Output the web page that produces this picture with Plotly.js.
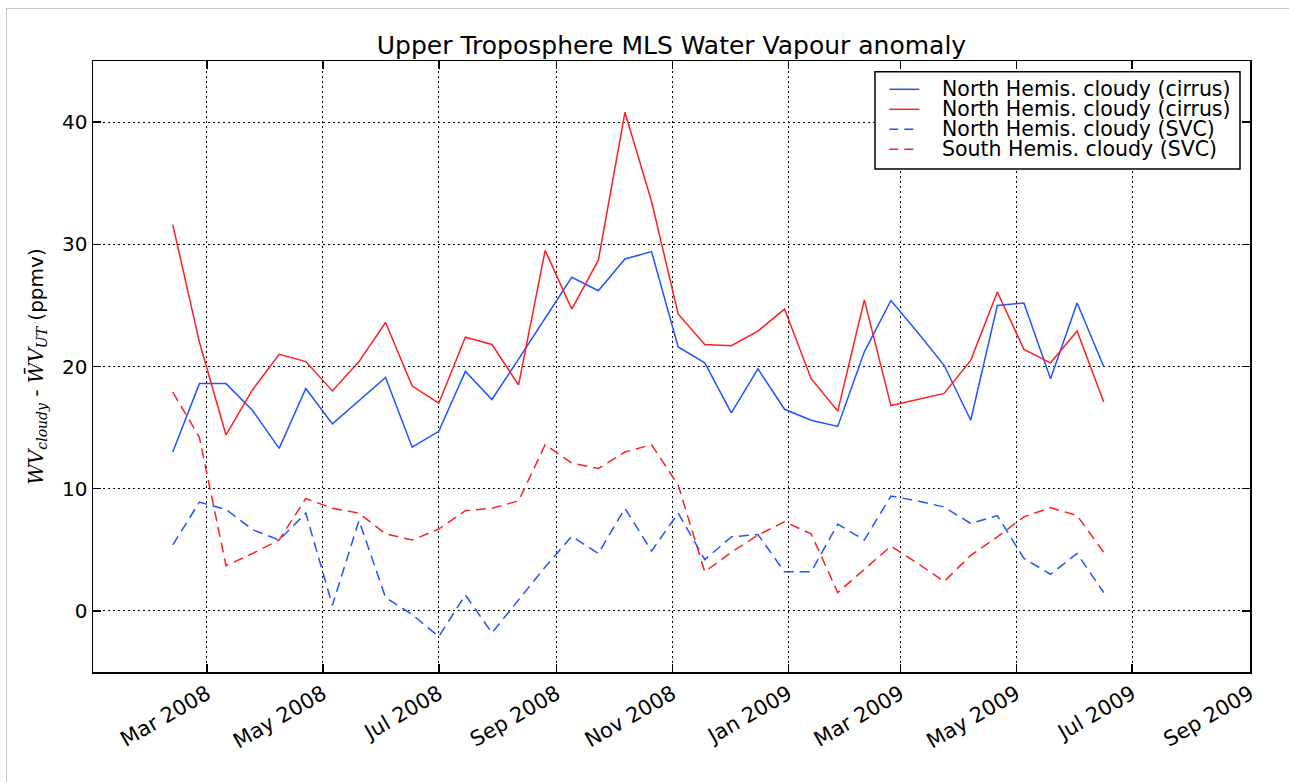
<!DOCTYPE html>
<html>
<head>
<meta charset="utf-8">
<script src="https://cdn.plot.ly/plotly-3.0.1.min.js"></script>
<style>
  html, body { margin: 0; padding: 0; background: #fff; }
  #frame { position: absolute; left: 6px; top: 8px; width: 1283px; height: 774px;
           border-left: 1px solid #c8c8c8; border-top: 1px solid #c8c8c8; }
  #chart { position: absolute; left: 0; top: 0; width: 1289px; height: 782px; }
</style>
</head>
<body>
<div id="frame"></div>
<div id="chart"></div>
<script>
// Sampling dates (every two weeks)
const dates = [
  "2008-02-12","2008-02-26","2008-03-11","2008-03-25","2008-04-08","2008-04-22",
  "2008-05-06","2008-05-20","2008-06-03","2008-06-17","2008-07-01","2008-07-15",
  "2008-07-29","2008-08-12","2008-08-26","2008-09-09","2008-09-23","2008-10-07",
  "2008-10-21","2008-11-04","2008-11-18","2008-12-02","2008-12-16","2008-12-30",
  "2009-01-13","2009-01-27","2009-02-10","2009-02-24","2009-03-10","2009-03-24",
  "2009-04-07","2009-04-21","2009-05-05","2009-05-19","2009-06-02","2009-06-16"
];

// North Hemis. cloudy (cirrus) - blue solid
const nhCirrusBlue = [
  13.0, 18.6, 18.6, 16.4, 13.3, 18.2, 15.3, 17.2, 19.1, 13.4, 14.7, 19.6,
  17.3, 20.6, 23.9, 27.3, 26.2, 28.8, 29.4, 21.6, 20.3, 16.2, 19.8, 16.5,
  15.6, 15.1, 21.2, 25.4, 22.8, 20.1, 15.6, 25.0, 25.2, 19.0, 25.2, 20.0
];

// North Hemis. cloudy (cirrus) - red solid
const nhCirrusRed = [
  31.6, 22.0, 14.4, 18.1, 21.0, 20.4, 18.0, 20.4, 23.6, 18.4, 17.0, 22.4,
  21.8, 18.5, 29.5, 24.7, 28.7, 40.8, 33.5, 24.3, 21.8, 21.7, 22.9, 24.7,
  19.0, 16.35, 25.45, 16.8, 17.3, 17.8, 20.5, 26.1, 21.4, 20.3, 22.9, 17.1
];

// North Hemis. cloudy (SVC) - blue dashed
const nhSVC = [
  5.4, 8.9, 8.3, 6.65, 5.8, 8.0, 0.45, 7.4, 1.1, -0.3, -2.1, 1.3,
  -1.8, 0.9, 3.6, 6.1, 4.7, 8.4, 4.9, 8.0, 4.2, 6.05, 6.25, 3.2,
  3.2, 7.1, 5.8, 9.4, 9.0, 8.5, 7.15, 7.8, 4.3, 3.0, 4.7, 1.5
];

// South Hemis. cloudy (SVC) - red dashed
const shSVC = [
  17.9, 14.2, 3.7, 4.7, 5.8, 9.2, 8.4, 8.0, 6.3, 5.8, 6.7, 8.2,
  8.4, 9.0, 13.6, 12.1, 11.65, 13.0, 13.6, 10.3, 3.2, 4.8, 6.2, 7.3,
  6.3, 1.5, 3.4, 5.3, 3.9, 2.4, 4.55, 6.05, 7.7, 8.45, 7.8, 4.8
];

const seriesNames = [
  "North Hemis. cloudy (cirrus)",
  "North Hemis. cloudy (cirrus)",
  "North Hemis. cloudy (SVC)",
  "South Hemis. cloudy (SVC)"
];

// x tick positions and labels
const xTickVals = ["2008-03-01","2008-05-01","2008-07-01","2008-09-01","2008-11-01",
                   "2009-01-01","2009-03-01","2009-05-01","2009-07-01","2009-09-01"];
const xTickText = ["Mar 2008","May 2008","Jul 2008","Sep 2008","Nov 2008",
                   "Jan 2009","Mar 2009","May 2009","Jul 2009","Sep 2009"];

const BLUE = "#1e55ff";
const RED = "#ff2020";
const DASH = "10px,6px";
const FONT = "DejaVu Sans, sans-serif";

const seriesY = [nhCirrusBlue, nhCirrusRed, nhSVC, shSVC];
const seriesColor = [BLUE, RED, BLUE, RED];
const seriesDash = ["solid", "solid", DASH, DASH];

const traces = seriesY.map((ys, i) => ({
  x: dates, y: ys, name: seriesNames[i], mode: "lines",
  line: {color: seriesColor[i], width: 1.5, dash: seriesDash[i]},
  showlegend: false
}));

// Hand-built legend (box, line samples, labels) in paper coordinates
const W = 1157, H = 611, L = 93, T = 61;
const px = v => (v - L) / W;
const py = v => (T + H - v) / H;
const rowY = [89.3, 109.3, 129.3, 149.3];

const shapes = [{
  type: "rect", xref: "paper", yref: "paper",
  x0: px(875), x1: px(1240), y0: py(169), y1: py(71.7),
  fillcolor: "#fff", line: {color: "#000", width: 1.5}, layer: "above"
}];
const annotations = [];
seriesNames.forEach((nm, i) => {
  shapes.push({
    type: "line", xref: "paper", yref: "paper",
    x0: px(889.3), x1: px(919.3), y0: py(rowY[i]), y1: py(rowY[i]),
    line: {color: seriesColor[i], width: 1.5, dash: seriesDash[i] === "solid" ? "solid" : "9px,6px"},
    layer: "above"
  });
  annotations.push({
    xref: "paper", yref: "paper", x: px(941), y: py(rowY[i]),
    xanchor: "left", yanchor: "middle", showarrow: false, borderpad: 0,
    text: nm, font: {family: FONT, size: 20.5, color: "#000"}
  });
});

const yTitle = '<span style="font-family:\'DejaVu Serif\'"><i>WV</i><sub><i>cloudy</i></sub></span>' +
  ' - <span style="font-family:\'DejaVu Serif\'"><i>W\u0304V</i><sub><i>UT</i></sub></span> (ppmv)';

const layout = {
  width: 1289, height: 782,
  paper_bgcolor: "rgba(0,0,0,0)",
  plot_bgcolor: "#fff",
  margin: {l: 93, r: 39, t: 61, b: 110},
  font: {family: FONT, color: "#000", size: 20},
  title: {text: "Upper Troposphere MLS Water Vapour anomaly",
          font: {family: FONT, size: 25, color: "#000"},
          x: 0.5, xref: "paper", xanchor: "center",
          y: 1 - 45/782, yref: "container", yanchor: "middle"},
  showlegend: false,
  shapes: shapes,
  annotations: annotations,
  xaxis: {
    type: "date",
    range: ["2008-01-01", "2009-09-01"],
    tickmode: "array", tickvals: xTickVals, ticktext: xTickText,
    tickangle: -30,
    tickfont: {family: FONT, size: 21, color: "#000"},
    ticks: "inside", ticklen: 8, tickwidth: 1.5, tickcolor: "#000",
    showline: true, linecolor: "#000", linewidth: 1.5, mirror: "allticks",
    showgrid: true, gridcolor: "#000", gridwidth: 1, griddash: "1.5px,3.5px",
    zeroline: false, automargin: false
  },
  yaxis: {
    range: [-5, 45],
    tick0: 0, dtick: 10,
    tickfont: {family: FONT, size: 20, color: "#000"},
    ticks: "inside", ticklen: 8, tickwidth: 1.5, tickcolor: "#000",
    showline: true, linecolor: "#000", linewidth: 1.5, mirror: "allticks",
    showgrid: true, gridcolor: "#000", gridwidth: 1, griddash: "1.5px,3.5px",
    zeroline: false, automargin: false,
    title: {text: yTitle, font: {family: FONT, size: 20, color: "#000"}, standoff: 13}
  }
};

Plotly.newPlot("chart", traces, layout, {staticPlot: true, displayModeBar: false});
</script>
</body>
</html>
